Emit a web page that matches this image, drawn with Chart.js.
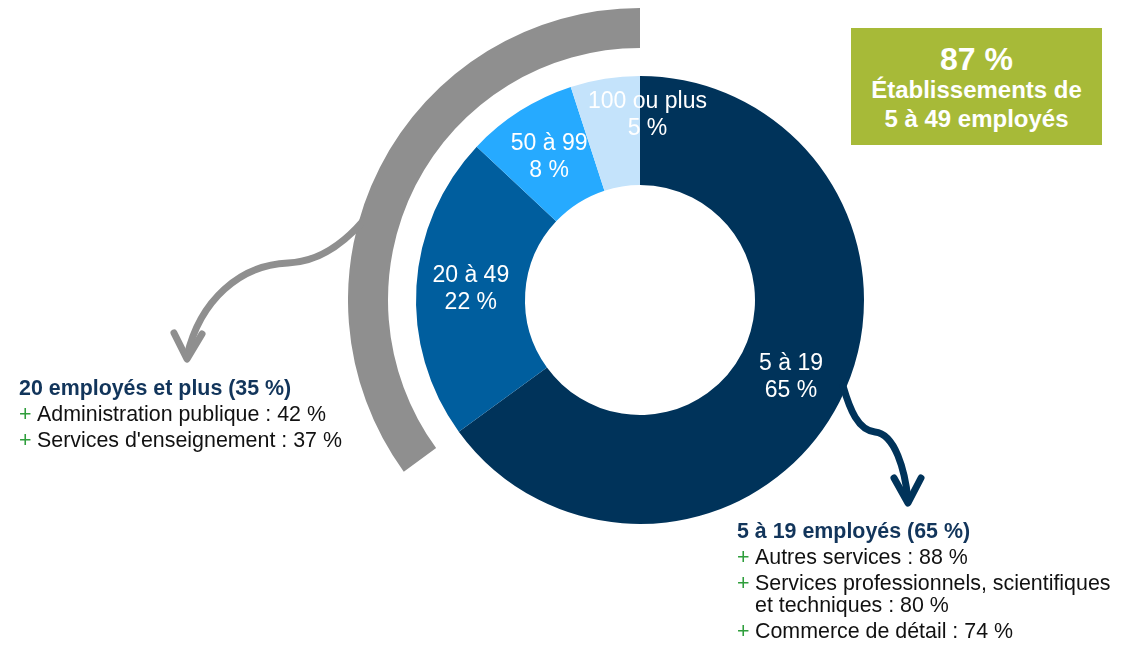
<!DOCTYPE html>
<html lang="fr">
<head>
<meta charset="utf-8">
<title>Établissements selon la taille</title>
<script src="https://cdn.jsdelivr.net/npm/chart.js@4"></script>
<style>
  html, body { margin: 0; padding: 0; background: #fff; }
  body { width: 1131px; height: 647px; position: relative; overflow: hidden;
         font-family: "Liberation Sans", Arial, sans-serif; }
  .ring { position: absolute; left: 348px; top: 8px; width: 584px; height: 584px; }
  svg.arrows { position: absolute; left: 0; top: 0; pointer-events: none; }
  .badge { position: absolute; left: 851px; top: 28px; width: 251px; height: 117px;
           background: #a7ba38; color: #fff; font-weight: bold; text-align: center;
           box-sizing: border-box; padding-top: 15px; }
  .badge .big { font-size: 32px; line-height: 32px; }
  .badge .line { font-size: 24px; line-height: 29px; }
  .group { position: absolute; font-size: 21.4px; color: #111; }
  .group .title { font-weight: bold; color: #12355b; line-height: 22px; }
  .group .item { display: flex; line-height: 22px; margin-top: 4px; }
  .group .plus { color: #2f9e3c; width: 18px; flex: none; }
  #left-group { left: 19px; top: 377px; width: 340px; }
  #right-group { left: 737px; top: 520px; width: 385px; }
</style>
</head>
<body>
<div class="ring"><canvas id="donut"></canvas></div>

<svg class="arrows" width="1131" height="647">
  <g fill="none" stroke-linecap="round" stroke-linejoin="round" stroke-width="7">
    <path stroke="#8f8f8f" d="M 363 221 C 338 250, 312 262, 288 263 C 240 265, 200 300, 187 356"/>
    <path stroke="#8f8f8f" d="M 174 333 L 187 359 L 202 334"/>
    <path stroke="#00335a" d="M 843 386 C 850 410, 858 430, 875 432 C 895 434, 905 470, 908 500"/>
    <path stroke="#00335a" d="M 894 478 L 908 503 L 921 478"/>
  </g>
</svg>

<div class="badge" id="badge"></div>
<div class="group" id="left-group"></div>
<div class="group" id="right-group"></div>

<script>
const categories = ["5 à 19", "20 à 49", "50 à 99", "100 ou plus"];
const shares = [65, 22, 8, 5];
const colors = ["#00335a", "#005e9e", "#26aaff", "#c4e3fb"];

const highlightShare = 87;
const highlightLabel = ["Établissements de", "5 à 49 employés"];

const smallTitle = "5 à 19 employés";
const smallItems = ["Autres services", "Services professionnels, scientifiques et techniques", "Commerce de détail"];
const smallValues = [88, 80, 74];

const largeTitle = "20 employés et plus";
const largeItems = ["Administration publique", "Services d'enseignement"];
const largeValues = [42, 37];

const smallShare = shares[0];
const largeShare = shares.slice(1).reduce((a, b) => a + b, 0);

// text blocks
const badge = document.querySelector("#badge");
badge.innerHTML = `<div class="big">${highlightShare} %</div>` +
  highlightLabel.map((t) => `<div class="line">${t}</div>`).join("");

const fillGroup = (el, title, share, items, values) => {
  let html = `<div class="title">${title} (${share} %)</div>`;
  items.forEach((name, i) => {
    html += `<div class="item"><span class="plus">+</span><span>${name} : ${values[i]} %</span></div>`;
  });
  el.innerHTML = html;
};
fillGroup(document.querySelector("#left-group"), largeTitle, largeShare, largeItems, largeValues);
fillGroup(document.querySelector("#right-group"), smallTitle, smallShare, smallItems, smallValues);

// labels inside the slices
const sliceLabels = {
  id: "sliceLabels",
  afterDatasetsDraw(chart) {
    const meta = chart.getDatasetMeta(2);
    const ctx = chart.ctx;
    ctx.save();
    ctx.fillStyle = "#fff";
    ctx.font = '23px "Liberation Sans", Arial, sans-serif';
    ctx.textAlign = "center";
    ctx.textBaseline = "middle";
    meta.data.forEach((arc, i) => {
      let { x, y } = arc.tooltipPosition();
      if (i === 3) { x += 34; y -= 17; } // small slice: label sits above
      ctx.fillText(categories[i], x, y - 13.5);
      ctx.fillText(shares[i] + " %", x, y + 13.5);
    });
    ctx.restore();
  }
};

new Chart(document.querySelector("#donut"), {
  type: "doughnut",
  data: {
    labels: categories,
    datasets: [
      {
        // outer grey bracket for the 20+ group
        data: [smallShare, largeShare],
        backgroundColor: ["rgba(0,0,0,0)", "#8f8f8f"],
        borderWidth: 0,
        weight: 40
      },
      {
        data: [100],
        backgroundColor: ["rgba(0,0,0,0)"],
        borderWidth: 0,
        weight: 28
      },
      {
        data: shares,
        backgroundColor: colors,
        borderWidth: 0,
        weight: 109
      }
    ]
  },
  options: {
    responsive: true,
    maintainAspectRatio: false,
    animation: false,
    events: [],
    cutout: 115,
    hoverOffset: 0,
    layout: { padding: 0 },
    plugins: {
      legend: { display: false },
      tooltip: { enabled: false }
    }
  },
  plugins: [sliceLabels]
});
</script>
</body>
</html>
